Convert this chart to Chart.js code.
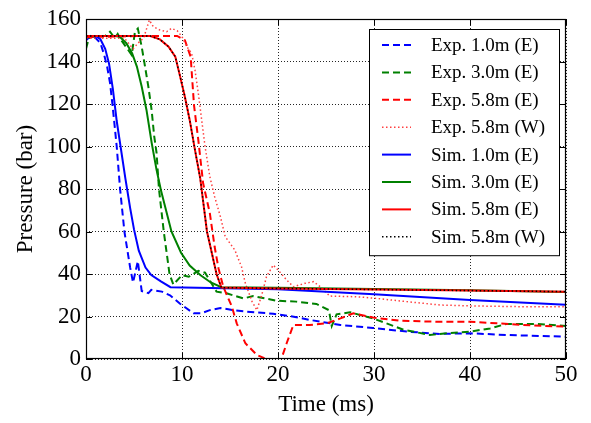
<!DOCTYPE html>
<html>
<head>
<meta charset="utf-8">
<script src="https://cdn.jsdelivr.net/npm/chart.js@4/dist/chart.umd.min.js"></script>
<style>
  html, body { margin: 0; padding: 0; background: #fff; }
  #wrap { width: 591px; height: 423px; }
</style>
</head>
<body>
<div id="wrap"><canvas id="pChart" width="591" height="423"></canvas></div>
<script>
// ----- Data -----
const SERIES_LABELS = [
  "Exp. 1.0m (E)", "Exp. 3.0m (E)", "Exp. 5.8m (E)", "Exp. 5.8m (W)",
  "Sim. 1.0m (E)", "Sim. 3.0m (E)", "Sim. 5.8m (E)", "Sim. 5.8m (W)"
];
const X_TICKS = [0, 10, 20, 30, 40, 50];
const Y_TICKS = [0, 20, 40, 60, 80, 100, 120, 140, 160];

const exp1T = [0, 0.6, 1.0, 1.5, 1.9, 2.2, 2.5, 2.75, 3.0, 3.2, 3.55, 4.0, 4.6, 4.9, 5.4, 5.8, 6.5, 6.8, 7.9, 8.75, 9.8, 11.2, 12.0, 12.9, 14.0, 15.3, 16.7, 19.5, 21.5, 23.3, 26.5, 29.9, 33.4, 36.9, 40, 43.8, 50];
const exp1P = [150, 152.5, 151, 148.7, 143, 137.6, 130, 120, 109, 100, 80, 60, 43, 36, 46, 32, 31, 32.5, 31.7, 30, 26, 21.5, 21.5, 23, 24, 23, 22.3, 21.3, 20, 18.4, 16, 14.6, 12.9, 11.8, 12.1, 11.3, 10.5];

const exp3T = [0, 0.3, 1.0, 2.0, 2.5, 3.0, 3.3, 3.6, 4.4, 4.76, 5.1, 5.4, 5.8, 6.15, 6.5, 6.84, 7.1, 7.35, 7.6, 8.1, 8.7, 9.1, 10.0, 10.7, 11.7, 12.4, 13.6, 14.65, 16.4, 17.4, 19.9, 21.9, 24.0, 25.3, 25.6, 26.1, 27.5, 29.9, 33.0, 35.8, 37.6, 40, 42.1, 43.8, 47, 50];
const exp3P = [146, 151, 152, 152, 154, 151, 153, 150.5, 145.4, 143, 154, 155.5, 147, 137.6, 128, 117, 105, 97, 80, 60, 40, 35, 39.5, 38.7, 41.5, 40.6, 31.7, 30.9, 28.5, 29.6, 27.4, 27, 25.9, 23, 15.5, 21, 22, 19.1, 13.9, 11.3, 12.1, 12.9, 14.4, 16.5, 16.5, 15.5];

const exp58eT = [0, 6, 7, 9.5, 10.3, 10.9, 11.25, 11.7, 12.2, 12.9, 13.4, 13.8, 14.3, 15.2, 15.7, 16.6, 17.8, 18.5, 19.2, 20.2, 20.9, 21.6, 23.3, 25.1, 26.5, 27.85, 29.9, 32.7, 36.9, 40, 42.8, 45.5, 50];
const exp58eP = [151.5, 152, 152, 152, 150, 142.3, 119.5, 103, 82.7, 68.6, 52.8, 42.7, 34, 24.6, 16.8, 7.4, 1.9, 0.5, -2, -2, 7.4, 16, 16, 16.8, 19.1, 21.5, 19.5, 18, 17.5, 17.5, 16.8, 16, 15.2];

const exp58wT = [0, 4.0, 4.9, 5.5, 6.0, 6.6, 7.0, 7.7, 8.4, 8.9, 9.5, 10.0, 10.5, 11.0, 11.35, 11.7, 12.05, 12.4, 12.9, 13.4, 14.0, 14.5, 15.5, 16.2, 16.6, 17.3, 17.8, 18.3, 18.8, 19.5, 20.0, 20.9, 21.6, 22.8, 23.7, 24.4, 25.4, 28.2, 30.3, 33.4, 36.9, 40, 45.5, 50];
const exp58wP = [151, 151, 146, 149, 151, 159.5, 156.4, 154.8, 154, 155.6, 154.5, 151.7, 147, 143.9, 136, 125, 112.5, 100, 85.8, 76.4, 67, 57.6, 51.3, 43.4, 35.6, 27, 23, 30, 38.7, 44.2, 41.9, 37.2, 34, 35.6, 36.4, 34, 29.6, 29.3, 28.5, 27, 25.4, 25, 24.6, 24.6];

const sim1T = [0, 1.0, 1.5, 2.0, 2.4, 2.8, 3.2, 3.6, 4.1, 4.6, 5.0, 5.5, 6.2, 6.8, 7.8, 8.8, 20, 30, 40, 50];
const sim1P = [152, 152, 150.5, 146, 139, 127, 112, 100, 85, 71, 61, 51, 43, 39.5, 36.5, 33.8, 32.8, 30.5, 27.8, 25.5];

const sim3T = [0, 3.0, 3.5, 4.2, 4.8, 5.3, 5.8, 6.3, 6.85, 7.35, 7.8, 8.9, 9.9, 10.8, 11.9, 13.0, 14.1, 20, 30, 40, 50];
const sim3P = [152, 152, 151.7, 148.6, 143.9, 137.6, 128.2, 117.2, 101.5, 89, 79.5, 60, 50, 44, 39.5, 36, 33.8, 33.5, 33, 32.3, 31.5];

const sim58eT = [0, 6.7, 7.7, 8.6, 9.3, 9.8, 10.3, 10.8, 11.35, 11.9, 12.6, 13.6, 14.1, 20, 30, 40, 50];
const sim58eP = [152, 152, 150.4, 147, 142.3, 133, 123.4, 112.5, 98.4, 85, 60, 40, 33.6, 33.2, 32.7, 32.2, 31.7];

const sim58wT = [0, 6.7, 7.7, 8.6, 9.3, 9.8, 10.3, 10.8, 11.35, 11.9, 12.6, 13.6, 14.1, 20, 30, 40, 50];
const sim58wP = [152, 152, 150.4, 147, 142.3, 133, 123.4, 112.5, 98.4, 85, 60, 40, 33.6, 33.2, 32.7, 32.2, 31.7];

const pts = (t, p) => t.map((x, i) => ({ x, y: p[i] }));

// ----- Styles -----
const SERIF = "'Liberation Serif', 'Times New Roman', serif";
const STYLES = [
  { color: "#0000ff", width: 2, dash: [7, 4] },
  { color: "#008000", width: 2, dash: [7, 4] },
  { color: "#ff0000", width: 2, dash: [7, 4] },
  { color: "#ff4040", width: 1.5, dash: [1.5, 2.5] },
  { color: "#0000ff", width: 2, dash: [] },
  { color: "#008000", width: 2, dash: [] },
  { color: "#ff0000", width: 2, dash: [] },
  { color: "#000000", width: 1.5, dash: [1.5, 2.5] }
];
const DATA = [
  pts(exp1T, exp1P), pts(exp3T, exp3P), pts(exp58eT, exp58eP), pts(exp58wT, exp58wP),
  pts(sim1T, sim1P), pts(sim3T, sim3P), pts(sim58eT, sim58eP), pts(sim58wT, sim58wP)
];

const datasets = SERIES_LABELS.map((label, i) => ({
  label,
  data: DATA[i],
  borderColor: STYLES[i].color,
  borderWidth: STYLES[i].width,
  borderDash: STYLES[i].dash,
  pointRadius: 0,
  fill: false,
  tension: 0,
  order: SERIES_LABELS.length - i // later series on top, like matplotlib
}));

// ----- Frame + inward ticks -----
const framePlugin = {
  id: "frame",
  afterDatasetsDraw(chart) {
    const { ctx, chartArea: { left, right, top, bottom }, scales: { x, y } } = chart;
    ctx.save();
    ctx.strokeStyle = "#000";
    ctx.lineWidth = 1;
    ctx.setLineDash([]);
    ctx.beginPath();
    X_TICKS.forEach((v) => {
      const px = Math.round(x.getPixelForValue(v)) + 0.5;
      ctx.moveTo(px, bottom); ctx.lineTo(px, bottom - 6);
      ctx.moveTo(px, top); ctx.lineTo(px, top + 6);
    });
    Y_TICKS.forEach((v) => {
      const py = Math.round(y.getPixelForValue(v)) + 0.5;
      ctx.moveTo(left, py); ctx.lineTo(left + 6, py);
      ctx.moveTo(right, py); ctx.lineTo(right - 6, py);
    });
    ctx.stroke();
    ctx.lineWidth = 1.2;
    ctx.strokeRect(left + 0.5, top + 0.5, right - left - 1, bottom - top - 1);
    ctx.restore();
  }
};

// ----- Legend inside the axes (upper right) -----
const legendPlugin = {
  id: "boxLegend",
  afterDraw(chart) {
    const { ctx, chartArea: { right, top } } = chart;
    const w = 190, rowH = 27.4;
    const bx = right - 7 - w, by = top + 10;
    const h = rowH * chart.data.datasets.length + 7;
    ctx.save();
    ctx.fillStyle = "#fff";
    ctx.fillRect(bx, by, w, h);
    ctx.strokeStyle = "#000";
    ctx.lineWidth = 1;
    ctx.setLineDash([]);
    ctx.strokeRect(bx + 0.5, by + 0.5, w, h);
    ctx.font = "19px " + SERIF;
    ctx.textBaseline = "middle";
    chart.data.datasets.forEach((ds, i) => {
      const cy = by + 16 + i * rowH;
      ctx.strokeStyle = ds.borderColor;
      ctx.lineWidth = ds.borderWidth;
      ctx.setLineDash(ds.borderDash);
      ctx.beginPath();
      ctx.moveTo(bx + 13, cy);
      ctx.lineTo(bx + 42, cy);
      ctx.stroke();
      ctx.setLineDash([]);
      ctx.fillStyle = "#000";
      ctx.fillText(ds.label, bx + 62, cy + 1);
    });
    ctx.restore();
  }
};

// ----- Chart -----
const ctx = document.getElementById("pChart").getContext("2d");
new Chart(ctx, {
  type: "line",
  data: { datasets },
  plugins: [framePlugin, legendPlugin],
  options: {
    responsive: false,
    animation: false,
    layout: { padding: { top: 19, right: 25, left: 0, bottom: 0 } },
    plugins: { legend: { display: false }, tooltip: { enabled: false } },
    scales: {
      x: {
        type: "linear",
        min: 0,
        max: 50,
        afterBuildTicks: (s) => { s.ticks = X_TICKS.map((v) => ({ value: v })); },
        afterFit: (s) => { s.height = 64; s.paddingLeft = 0; s.paddingRight = 0; },
        ticks: { color: "#000", font: { family: SERIF, size: 23 }, padding: 2, maxRotation: 0 },
        grid: { color: "rgba(0,0,0,0.85)", lineWidth: 1, drawTicks: false },
        border: { display: false, dash: [1, 2] },
        title: { display: true, text: "Time (ms)", color: "#000", font: { family: SERIF, size: 23 }, padding: { top: 0, bottom: 4 } }
      },
      y: {
        type: "linear",
        min: 0,
        max: 160,
        afterBuildTicks: (s) => { s.ticks = Y_TICKS.map((v) => ({ value: v })); },
        afterFit: (s) => { s.width = 86; s.paddingTop = 0; s.paddingBottom = 0; },
        ticks: { color: "#000", font: { family: SERIF, size: 23 }, padding: 5 },
        grid: { color: "rgba(0,0,0,0.85)", lineWidth: 1, drawTicks: false },
        border: { display: false, dash: [1, 2] },
        title: { display: true, text: "Pressure (bar)", color: "#000", font: { family: SERIF, size: 23 }, padding: { top: 12, bottom: 0 } }
      }
    }
  }
});
</script>
</body>
</html>
